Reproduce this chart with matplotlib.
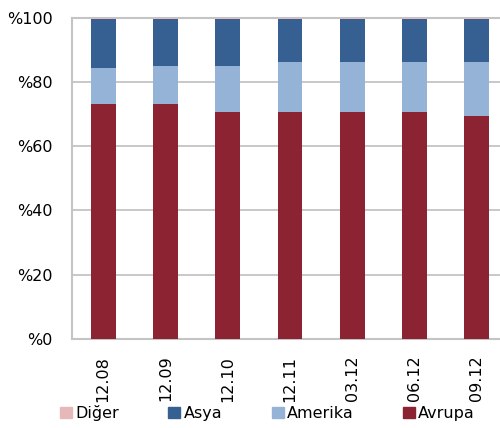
import matplotlib
matplotlib.use("Agg")
import matplotlib.pyplot as plt
from matplotlib.patches import Patch
import numpy as np

categories = ["12.08", "12.09", "12.10", "12.11", "03.12", "06.12", "09.12"]
avrupa = [73.1, 73.1, 70.6, 70.6, 70.6, 70.6, 69.3]
amerika = [11.2, 11.9, 14.4, 15.6, 15.6, 15.6, 16.9]
diger = [0.3, 0.3, 0.3, 0.3, 0.3, 0.3, 0.3]
asya = [100 - a - b - d for a, b, d in zip(avrupa, amerika, diger)]
yticks = [0, 20, 40, 60, 80, 100]
ytick_labels = ["%0", "%20", "%40", "%60", "%80", "%100"]

c_avrupa = "#8B2332"
c_amerika = "#95B3D7"
c_asya = "#366092"
c_diger = "#E6B9B8"

fig = plt.figure(figsize=(5.0, 4.28), dpi=100)
ax = fig.add_axes([0.144, 0.208, 0.872, 0.751])

x = np.arange(len(categories))
w = 0.4
ax.bar(x, avrupa, w, color=c_avrupa, zorder=3)
b1 = np.array(avrupa)
ax.bar(x, amerika, w, bottom=b1, color=c_amerika, zorder=3)
b2 = b1 + np.array(amerika)
ax.bar(x, asya, w, bottom=b2, color=c_asya, zorder=3)
b3 = b2 + np.array(asya)
ax.bar(x, diger, w, bottom=b3, color=c_diger, zorder=3)

ax.set_xlim(-0.5, len(categories) - 0.5)
ax.set_ylim(0, 100)
ax.set_yticks(yticks)
ax.set_yticklabels(ytick_labels, fontsize=11.5)
ax.set_xticks(x)
ax.set_xticklabels(categories, rotation=90, fontsize=11.5)
ax.tick_params(axis="both", length=0)
ax.tick_params(axis="y", pad=14)
ax.tick_params(axis="x", pad=12)

ax.yaxis.grid(True, color="#C4C4C4", linewidth=1.3, zorder=0)
ax.spines["right"].set_visible(False)
for s in ["left", "bottom", "top"]:
    ax.spines[s].set_color("#C4C4C4")
    ax.spines[s].set_linewidth(1.5)

handles = [Patch(color=c_diger), Patch(color=c_asya), Patch(color=c_amerika), Patch(color=c_avrupa)]
labels = ["Diğer", "Asya", "Amerika", "Avrupa"]
fig.legend(handles, labels, loc="center", bbox_to_anchor=(0.535, 0.035), ncol=4,
           frameon=False, fontsize=11.5, handlelength=0.75, handleheight=0.75,
           handletextpad=0.2, columnspacing=3.1)

fig.savefig("out.png", dpi=100)
